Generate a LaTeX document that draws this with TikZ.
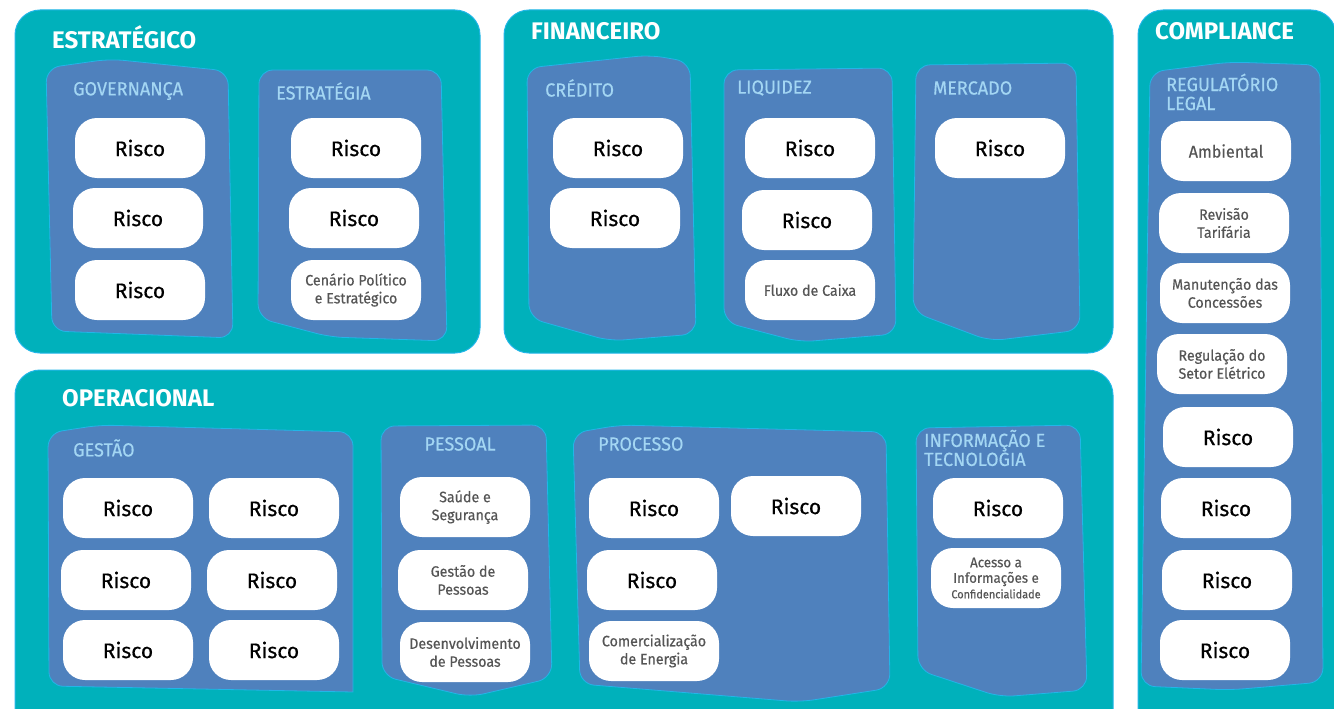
\documentclass[tikz,border=0pt]{standalone}
\usepackage{fontspec}
\setmainfont{Fira Sans}[FakeBold=0.5]
\newfontfamily\titlefont{Fira Sans}
\newfontfamily\labelfont{Fira Sans}[FakeStretch=0.95, FakeBold=0.4]
\newfontfamily\grayfont{Fira Sans}[FakeStretch=0.95, FakeBold=0.4]
\definecolor{tealbg}{HTML}{00B1BB}
\definecolor{panelblue}{HTML}{4F81BD}
\definecolor{edgecyan}{HTML}{22B6E8}
\definecolor{labelblue}{HTML}{A3D6F3}
\definecolor{txtgray}{HTML}{555555}
\tikzset{
  outerbox/.style={fill=tealbg, draw=edgecyan, line width=1pt, rounded corners=25pt},
  panel/.style={fill=panelblue, draw=edgecyan, line width=0.8pt, rounded corners=14pt},
  bigtitle/.style={anchor=west, text=white, font=\titlefont\bfseries\fontsize{24}{26}\selectfont, inner sep=0pt},
  plabel/.style={anchor=west, text=labelblue, font=\labelfont\fontsize{19}{19}\selectfont, inner sep=0pt, align=left},
  riskbox/.style={fill=white, rounded corners=22pt, minimum width=130pt, minimum height=60pt, inner sep=0pt, align=center, text=black, font=\fontsize{21}{23}\selectfont},
  graybox/.style={riskbox, text=txtgray, font=\grayfont\fontsize{15}{18}\selectfont}
}
\begin{document}
\begin{tikzpicture}[x=1pt,y=-1pt]
\useasboundingbox (0,0) rectangle (1334,709);
\begin{scope}
\clip (0,0) rectangle (1334,709);
% outer boxes
\draw[outerbox] (15,10) rectangle (480,353);
\draw[outerbox] (504,10) rectangle (1113,353);
\draw[outerbox] (1138,10) rectangle (1336,735);
\draw[outerbox] (15,370) rectangle (1113,735);
% panels
\draw[panel] (46,68) -- (110,59) -- (228,71) -- (233,338) -- (52,331) -- cycle;
\draw[panel] (259,70) -- (441,70) -- (447,341) -- (330,337) -- (258,318) -- cycle;
\draw[panel] (527,68) -- (650,55) -- (690,62) -- (696,334) -- (610,341) -- (529,318) -- cycle;
\draw[panel] (724,70) -- (892,68) -- (896,334) -- (800,342) -- (724,322) -- cycle;
\draw[panel] (916,65) -- (1076,63) -- (1080,330) -- (990,341) -- (913,312) -- cycle;
\draw[panel] (1150,72) -- (1230,62) -- (1320,65) -- (1323,682) -- (1230,690) -- (1141,686) -- cycle;
\draw[panel] (48,433) -- (100,425) -- (353,432) [sharp corners]-- (353,692) [rounded corners=14pt]-- (49,686) -- cycle;
\draw[panel] (381,426) -- (546,425) -- (552,678) -- (470,697) -- (382,676) -- cycle;
\draw[panel] (573,433) -- (620,425) -- (886,432) -- (890,688) -- (800,702) -- (580,684) -- cycle;
\draw[panel] (916,428) -- (1080,425) -- (1087,690) -- (1000,697) -- (918,670) -- cycle;
\end{scope}
% titles
\node[bigtitle] (tEst) at (52,37) {ESTRATÉGICO};
\node[bigtitle] (tFin) at (531,31) {FINANCEIRO};
\node[bigtitle] (tCom) at (1155,31) {COMPLIANCE};
\node[bigtitle] (tOpe) at (62,398) {OPERACIONAL};
% panel labels
\node[plabel] (lGov) at (73,91) {GOVERNANÇA};
\node[plabel] (lEst) at (276,91) {ESTRATÉGIA};
\node[plabel] (lCre) at (545,88) {CRÉDITO};
\node[plabel] (lLiq) at (737,88) {LIQUIDEZ};
\node[plabel] (lMer) at (933,88) {MERCADO};
\node[plabel, font=\labelfont\fontsize{19}{19}\selectfont] (lReg) at (1166,92) {REGULATÓRIO\\LEGAL};
\node[plabel] (lGes) at (73,448) {GESTÃO};
\node[plabel, anchor=center] (lPes) at (460,444) {PESSOAL};
\node[plabel] (lPro) at (598,444) {PROCESSO};
\node[plabel, font=\labelfont\fontsize{19}{19}\selectfont] (lInf) at (924,448) {INFORMAÇÃO E\\TECNOLOGIA};
% Estrategico
\node[riskbox] (g1) at (140,148) {Risco};
\node[riskbox] (g2) at (138,218) {Risco};
\node[riskbox] (g3) at (140,290) {Risco};
\node[riskbox] (e1) at (356,148) {Risco};
\node[riskbox] (e2) at (354,218) {Risco};
\node[graybox] (e3) at (356,290) {Cenário Político\\e Estratégico};
% Financeiro
\node[riskbox] (c1) at (618,148) {Risco};
\node[riskbox] (c2) at (615,218) {Risco};
\node[riskbox] (q1) at (810,148) {Risco};
\node[riskbox] (q2) at (807,220) {Risco};
\node[graybox] (q3) at (810,290) {Fluxo de Caixa};
\node[riskbox] (m1) at (1000,148) {Risco};
% Compliance
\node[graybox, font=\grayfont\fontsize{17}{19}\selectfont] (r1) at (1226,151) {Ambiental};
\node[graybox] (r2) at (1224,223) {Revisão\\Tarifária};
\node[graybox] (r3) at (1225,293) {Manutenção das\\Concessões};
\node[graybox] (r4) at (1222,364) {Regulação do\\Setor Elétrico};
\node[riskbox] (r5) at (1228,437) {Risco};
\node[riskbox] (r6) at (1226,508) {Risco};
\node[riskbox] (r7) at (1227,580) {Risco};
\node[riskbox] (r8) at (1225,650) {Risco};
% Operacional - Gestao
\node[riskbox] (s1) at (128,508) {Risco};
\node[riskbox] (s2) at (274,508) {Risco};
\node[riskbox] (s3) at (126,580) {Risco};
\node[riskbox] (s4) at (272,580) {Risco};
\node[riskbox] (s5) at (128,650) {Risco};
\node[riskbox] (s6) at (274,650) {Risco};
% Pessoal
\node[graybox] (p1) at (465,507) {Saúde e\\Segurança};
\node[graybox] (p2) at (463,580) {Gestão de\\Pessoas};
\node[graybox] (p3) at (465,652) {Desenvolvimento\\de Pessoas};
% Processo
\node[riskbox] (o1) at (654,508) {Risco};
\node[riskbox] (o2) at (796,506) {Risco};
\node[riskbox] (o3) at (652,580) {Risco};
\node[graybox] (o4) at (654,651) {Comercialização\\de Energia};
% Informacao
\node[riskbox] (i1) at (998,508) {Risco};
\node[graybox, font=\grayfont\fontsize{14}{15.5}\selectfont] (i2) at (996,578) {Acesso a\\Informações e\\{\fontsize{11.5}{13}\selectfont Confidencialidade}};
\end{tikzpicture}
\end{document}
